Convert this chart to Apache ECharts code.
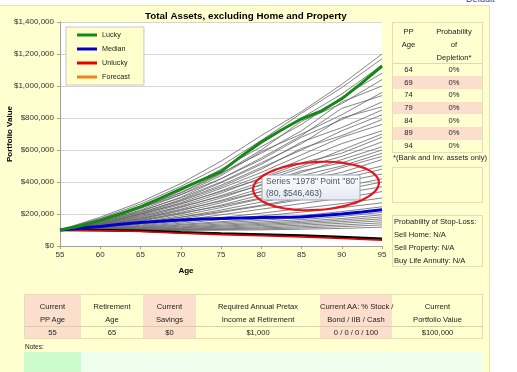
<!DOCTYPE html>
<html><head><meta charset="utf-8">
<script src="https://cdn.jsdelivr.net/npm/echarts@6/dist/echarts.min.js"></script>
<style>
html,body{margin:0;padding:0;width:517px;height:372px;overflow:hidden;background:#fff;font-family:"Liberation Sans",Arial,sans-serif;color:#222;}
#panel{position:absolute;left:0;top:5px;width:489px;height:367px;background:#FFFFD0;border-top:1px solid #F3DDA8;border-right:1px solid #F3DDA8;}
#chart{position:absolute;left:0;top:0;width:517px;height:372px;}
.a{position:absolute;font-size:7.6px;white-space:nowrap;}
.box{position:absolute;border:1px solid #E6DDB8;box-sizing:border-box;}
.c{text-align:center;}
</style>
</head><body>
<div id="panel"></div>
<div class="a" style="left:466px;top:-6px;font-size:9px;color:#3b4c86;">Default</div>
<div id="chart"></div>
<div id="overlay"></div>
<script>
// ---------- data ----------
const agesCoarse = [55, 60, 65, 70, 75, 80, 85, 90, 95];
const agesFine = [55, 57.5, 60, 62.5, 65, 67.5, 70, 72.5, 75, 77.5, 80, 82.5, 85, 87.5, 90, 92.5, 95];
// values in $ thousands
const luckyK  = [100, 125, 160, 200, 245, 300, 355, 410, 465, 560, 650, 725, 795, 845, 920, 1020, 1125];
const medianK = [100, 112, 122, 136, 147, 155, 162, 168, 172, 175, 178, 180, 182, 190, 200, 212, 226];
const unluckyK = [100, 97, 91, 80, 71, 64, 57, 47, 36];
const worstK   = [100, 99, 95, 86, 78, 72, 65, 56, 46];
const grayPathsK = [
  [100,180,275,390,530,690,840,1010,1200],
  [100,172,262,372,500,660,830,990,1170],
  [100,168,250,350,470,640,800,950,1130],
  [100,160,240,345,480,620,760,930,1080],
  [100,165,245,330,450,600,780,890,1040],
  [100,155,235,335,455,580,720,900,1000],
  [100,150,225,320,440,590,700,820,960],
  [100,158,238,320,420,550,690,860,940],
  [100,145,215,305,420,540,680,790,900],
  [100,150,220,300,400,520,640,800,870],
  [100,140,205,290,395,510,650,740,850],
  [100,145,210,285,380,490,600,720,820],
  [100,138,200,280,370,480,610,690,790],
  [100,135,195,270,360,460,570,680,760],
  [100,132,190,260,345,440,540,640,720],
  [100,140,200,265,340,420,500,600,700],
  [100,130,180,250,330,425,520,580,680],
  [100,128,175,240,315,400,490,560,650],
  [100,135,185,245,310,380,460,540,620],
  [100,125,170,230,300,385,470,520,600],
  [100,122,165,220,285,360,440,500,580],
  [100,128,170,225,280,340,410,490,560],
  [100,120,160,210,270,340,410,460,540],
  [100,118,155,200,255,320,380,440,500],
  [100,122,158,205,250,300,360,420,480],
  [100,115,148,190,240,295,350,400,450],
  [100,112,142,180,225,275,320,370,420],
  [100,116,145,180,215,255,300,350,400],
  [100,110,136,170,210,250,290,330,370],
  [100,108,130,160,195,230,265,300,340],
  [100,107,126,150,178,205,235,265,300],
  [100,106,122,142,165,188,212,240,270],
  [100,105,118,135,152,170,190,215,245],
  [100,104,115,130,145,160,178,200,225],
  [100,103,112,124,137,150,165,185,210],
  [100,102,109,119,130,142,155,172,195],
  [100,101,106,114,124,135,147,162,182],
  [100,100,104,110,118,128,139,152,170],
  [100,99,102,106,112,120,130,142,158],
  [100,99,100,103,107,113,121,131,145],
  [100,98,98,100,103,107,113,121,132],
  [100,97,96,97,99,101,105,110,118]
];
const legendNames = ['Lucky', 'Median', 'Unlucky', 'Forecast'];
const tooltipLines = ['Series "1978" Point "80"', '(80, $546,463)'];

const depletionAges = [64, 69, 74, 79, 84, 89, 94];
const depletionProb = ['0%', '0%', '0%', '0%', '0%', '0%', '0%'];
const stopLossLines = ['Probability of Stop-Loss:', 'Sell Home: N/A', 'Sell Property: N/A', 'Buy Life Annuity: N/A'];
const bottomHeaders = [['Current', 'PP Age'], ['Retirement', 'Age'], ['Current', 'Savings'], ['Required Annual Pretax', 'Income at Retirement'], ['Current AA: % Stock /', 'Bond / IIB / Cash'], ['Current', 'Portfolio Value']];
const bottomValues = ['55', '65', '$0', '$1,000', '0 / 0 / 0 / 100', '$100,000'];

// ---------- HTML side panels ----------
const ov = document.getElementById('overlay');
let h = '';
h += '<div class="box" style="left:392px;top:22px;width:91px;height:131px;"></div>';
const hdr1 = ['PP', 'Age', ''], hdr2 = ['Probability', 'of', 'Depletion*'];
for (let i = 0; i < 3; i++) {
  const cy = 32 + i * 13;
  h += `<div class="a c" style="left:392px;width:33px;top:${cy-5}px;line-height:10px;">${hdr1[i]}</div>`;
  h += `<div class="a c" style="left:425px;width:58px;top:${cy-5}px;line-height:10px;">${hdr2[i]}</div>`;
}
h += '<div class="a" style="left:393px;top:63px;width:89px;height:1px;background:#E3D9B0;"></div>';
depletionAges.forEach((age, i) => {
  const top = 63.5 + i * 12.7;
  const bg = i % 2 === 1 ? 'background:#FBDECB;' : '';
  h += `<div class="a" style="left:393px;top:${top}px;width:89px;height:12.7px;${bg}"></div>`;
  h += `<div class="a c" style="left:392px;width:33px;top:${top+1.3}px;line-height:10px;">${age}</div>`;
  h += `<div class="a c" style="left:425px;width:58px;top:${top+1.3}px;line-height:10px;">${depletionProb[i]}</div>`;
});
h += '<div class="a" style="left:393px;top:153px;line-height:10px;">*(Bank and Inv. assets only)</div>';
h += '<div class="box" style="left:392px;top:167px;width:91px;height:36px;"></div>';
h += '<div class="box" style="left:392px;top:215px;width:91px;height:52px;"></div>';
stopLossLines.forEach((t, i) => {
  h += `<div class="a" style="left:394px;top:${217 + i*13}px;line-height:10px;">${t}</div>`;
});
const colW = [57, 62, 53, 124, 72, 91];
let x = 24;
colW.forEach((w, i) => {
  const bg = i % 2 === 0 ? '#FBDECB' : 'transparent';
  h += `<div class="a" style="left:${x}px;top:295px;width:${w}px;height:43px;background:${bg};"></div>`;
  bottomHeaders[i].forEach((t, k) => {
    h += `<div class="a c" style="left:${x}px;width:${w}px;top:${302 + k*13}px;line-height:10px;">${t}</div>`;
  });
  h += `<div class="a c" style="left:${x}px;width:${w}px;top:327.5px;line-height:10px;">${bottomValues[i]}</div>`;
  x += w;
});
h += '<div class="box" style="left:24px;top:294px;width:459px;height:45px;"></div>';
h += '<div class="a" style="left:25px;top:326px;width:458px;height:1px;background:#D9CFA8;"></div>';
h += '<div class="a" style="left:25px;top:343px;font-size:6.5px;line-height:8px;">Notes:</div>';
h += '<div class="a" style="left:24px;top:352px;width:57px;height:20px;background:#CCFCCC;"></div>';
h += '<div class="a" style="left:81px;top:352px;width:402px;height:20px;background:#EEFFEE;"></div>';
ov.innerHTML = h;

// ---------- chart ----------
const chart = echarts.init(document.getElementById('chart'), null, {renderer: 'canvas'});
const K = 1000;
const series = grayPathsK.map((vals, i) => ({
  type: 'line', name: 'path' + (i + 1), silent: true, z: 1,
  symbol: 'none', data: agesCoarse.map((a, j) => [a, vals[j] * K]),
  lineStyle: {color: '#666666', width: 0.8}
}));
series.push({type: 'line', name: 'Worst', symbol: 'none', z: 3,
  data: agesCoarse.map((a, j) => [a, worstK[j] * K]), lineStyle: {color: '#000', width: 2.5}});
series.push({type: 'line', name: 'Unlucky', symbol: 'none', z: 3, color: '#E80000',
  data: agesCoarse.map((a, j) => [a, unluckyK[j] * K]), lineStyle: {color: '#E80000', width: 1.6}});
series.push({type: 'line', name: 'Forecast', symbol: 'none', z: 3, color: '#F08020', data: [],
  lineStyle: {color: '#F08020', width: 2}});
series.push({type: 'line', name: 'Median', symbol: 'none', z: 4, color: '#0000D0',
  data: agesFine.map((a, j) => [a, medianK[j] * K]), lineStyle: {color: '#0000D0', width: 3}});
series.push({type: 'line', name: 'Lucky', symbol: 'none', z: 5, color: '#138A13',
  data: agesFine.map((a, j) => [a, luckyK[j] * K]), lineStyle: {color: '#138A13', width: 3}});

const ellPts = [];
for (let t = 0; t < 64; t++) {
  const ang = t / 64 * Math.PI * 2;
  const ex = 63 * Math.cos(ang), ey = 24 * Math.sin(ang);
  const rot = -0.06;
  ellPts.push([316 + ex * Math.cos(rot) - ey * Math.sin(rot), 186 + ex * Math.sin(rot) + ey * Math.cos(rot)]);
}

chart.setOption({
  animation: false,
  backgroundColor: 'transparent',
  textStyle: {fontFamily: 'Liberation Sans'},
  title: {text: 'Total Assets, excluding Home and Property', left: 140, top: 6,
    textStyle: {fontSize: 9.8, fontWeight: 'bold', color: '#000', fontFamily: 'Liberation Sans'}},
  legend: {data: legendNames, orient: 'vertical', left: 66, top: 27, icon: 'rect',
    itemWidth: 20, itemHeight: 3, itemGap: 4, padding: [3, 14, 3, 11],
    backgroundColor: '#FFFFCC', borderColor: '#C8C8C8', borderWidth: 1, selectedMode: false,
    textStyle: {fontSize: 7.2, color: '#222', lineHeight: 10}},
  grid: {left: 60, right: 135, top: 22, bottom: 126, show: true, backgroundColor: '#fff', borderWidth: 0,
    outerBoundsMode: 'none', containLabel: false},
  xAxis: {type: 'value', min: 55, max: 95, interval: 5, name: 'Age', nameLocation: 'middle', nameGap: 21,
    nameMoveOverlap: false,
    nameTextStyle: {fontWeight: 'bold', fontSize: 8, color: '#000', padding: [0, 70, 0, 0]},
    axisLine: {lineStyle: {color: '#A0A0A0'}}, axisTick: {length: 3, lineStyle: {color: '#A0A0A0'}},
    splitLine: {show: false}, axisLabel: {fontSize: 8, color: '#333', margin: 5}},
  yAxis: {type: 'value', min: 0, max: 1400000, interval: 200000, name: 'Portfolio Value', nameLocation: 'middle',
    nameGap: 46, nameRotate: 90, nameMoveOverlap: false, nameTextStyle: {fontWeight: 'bold', fontSize: 8, color: '#000'},
    axisLine: {show: true, lineStyle: {color: '#A0A0A0'}}, axisTick: {show: true, length: 3, lineStyle: {color: '#A0A0A0'}},
    splitLine: {lineStyle: {color: '#D4D4D4'}},
    axisLabel: {fontSize: 8, color: '#333', margin: 6, formatter: v => '$' + v.toLocaleString('en-US')}},
  series: series,
  graphic: [
    {type: 'rect', z: 100, shape: {x: 262, y: 175, width: 98, height: 25, r: 1},
      style: {fill: new echarts.graphic.LinearGradient(0, 0, 0, 1, [{offset: 0, color: '#FFFFFF'}, {offset: 1, color: '#E4E8F0'}]),
        stroke: '#9AA3B5', lineWidth: 1}},
    {type: 'text', z: 101, left: 266, top: 177.5, style: {text: tooltipLines[0], fontSize: 8.6, fill: '#4B5567', fontFamily: 'Liberation Sans'}},
    {type: 'text', z: 101, left: 266, top: 189, style: {text: tooltipLines[1], fontSize: 8.6, fill: '#4B5567', fontFamily: 'Liberation Sans'}},
    {type: 'polygon', z: 102, shape: {points: ellPts, smooth: 0.3}, style: {fill: 'none', stroke: '#E8141B', lineWidth: 2.2}}
  ]
});
</script>
</body></html>
